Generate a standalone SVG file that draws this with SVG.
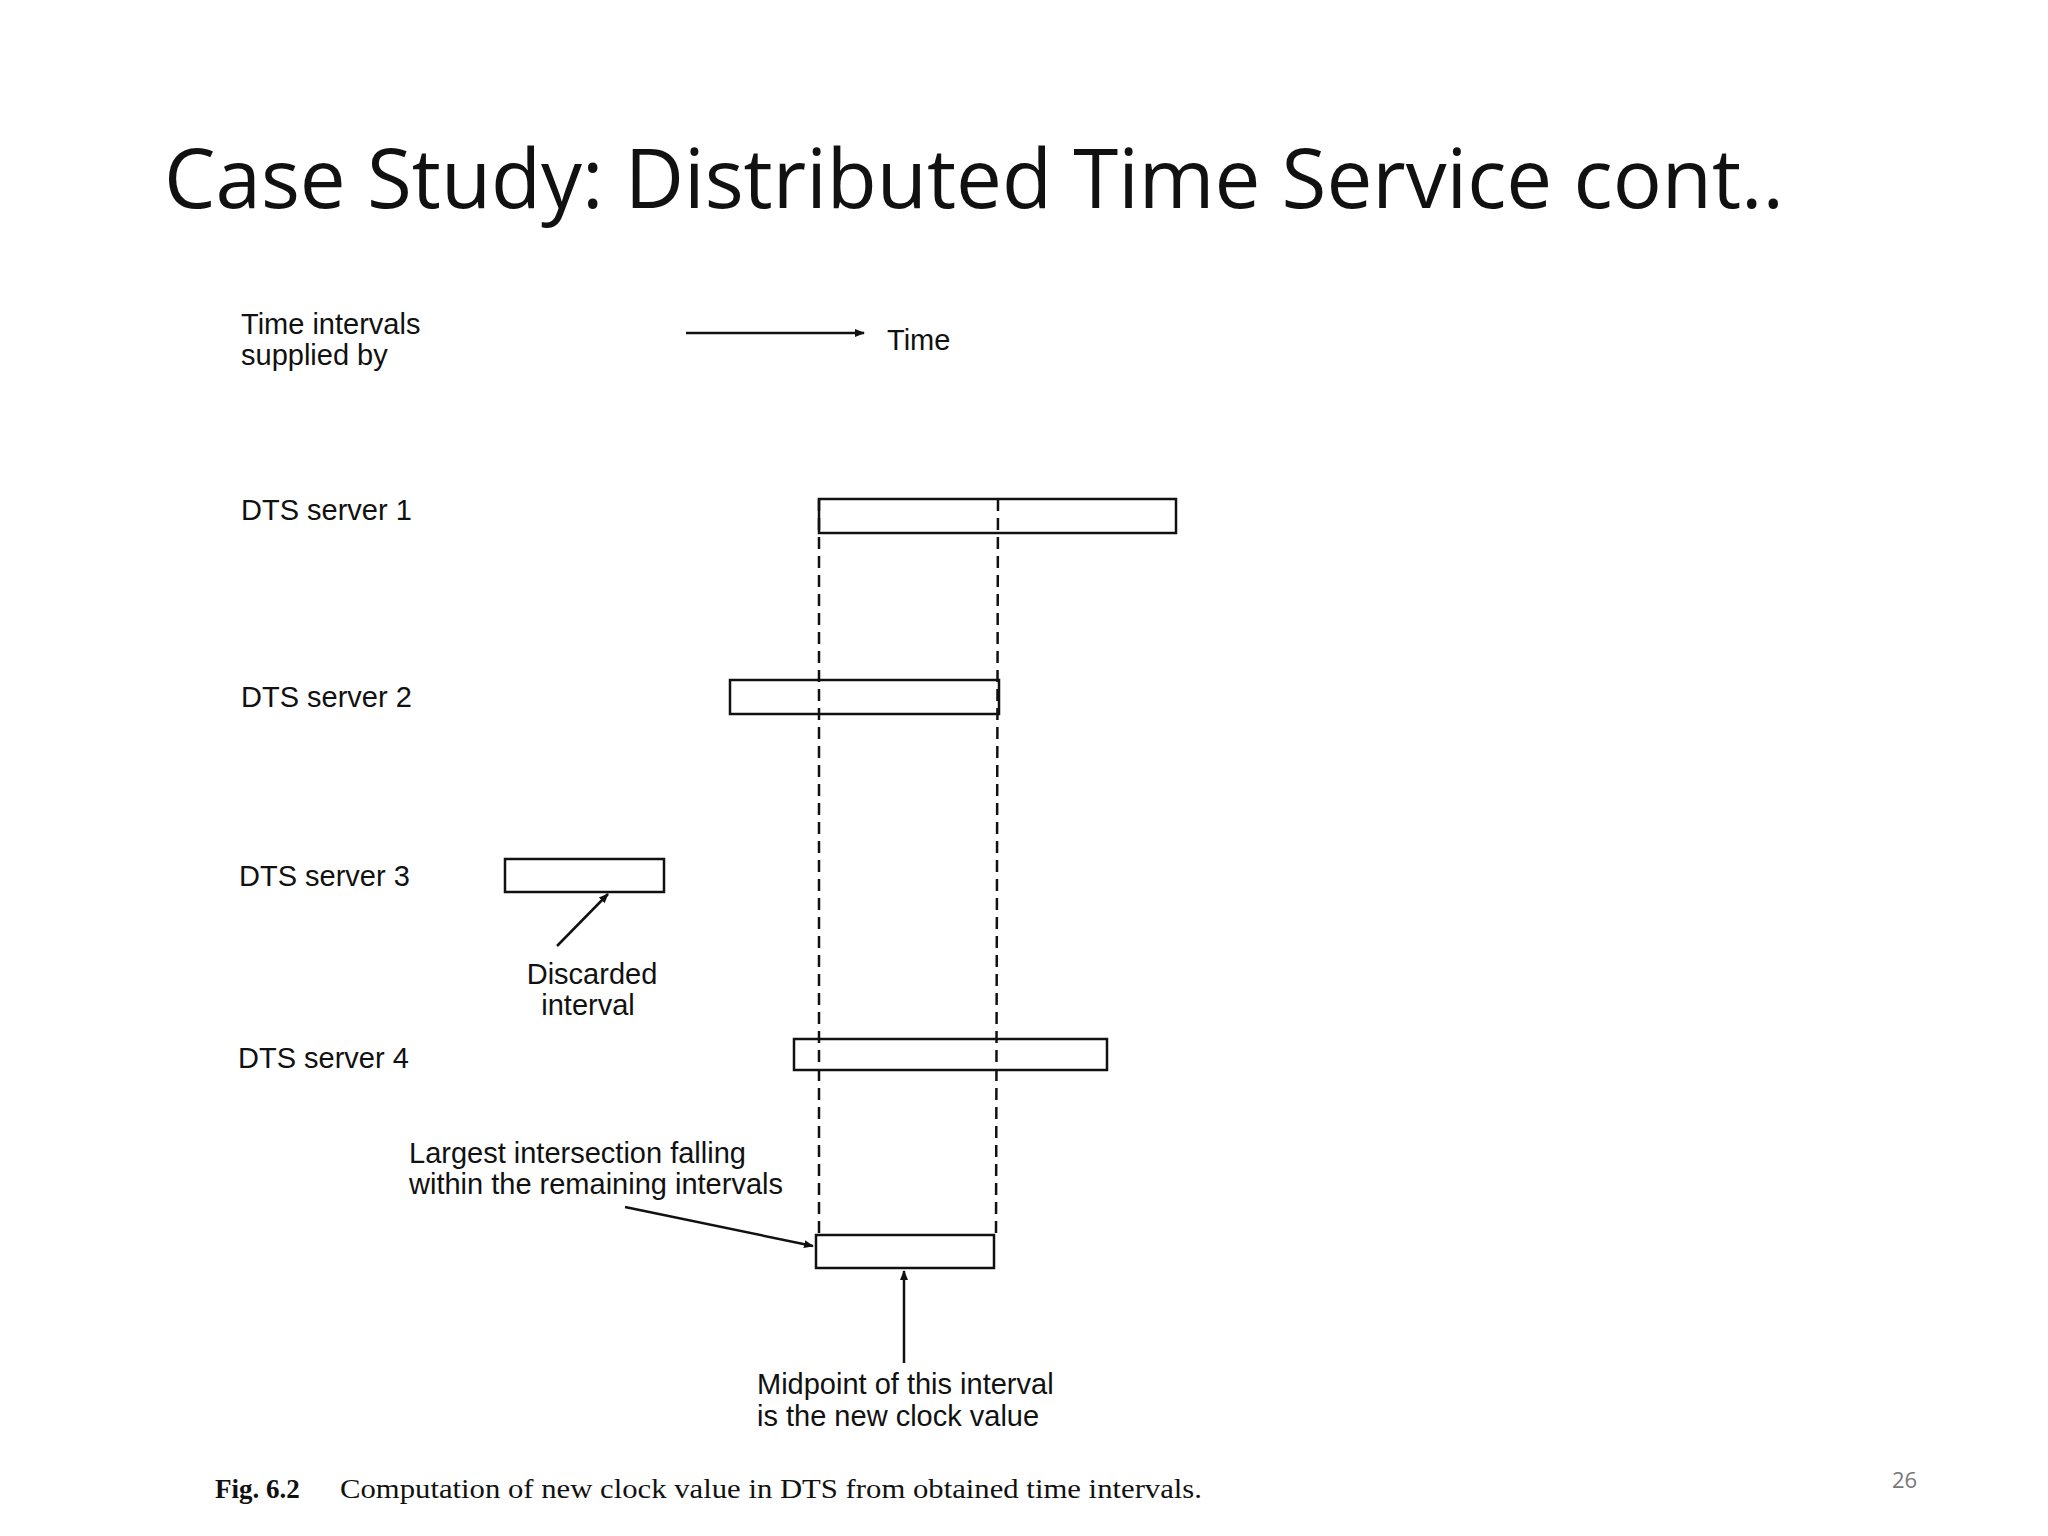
<svg xmlns="http://www.w3.org/2000/svg" width="2048" height="1536" viewBox="0 0 2048 1536">
<style>
.l{font-family:"Liberation Sans",Arial,sans-serif;font-size:29px;fill:#111}
.box{fill:#fff;stroke:#111;stroke-width:2.5}
.c{stroke:#111;stroke-width:2.5;fill:none}
.d{stroke:#111;stroke-width:2.5;stroke-dasharray:12,7;fill:none}
</style>
<defs><marker id="ah" markerWidth="10" markerHeight="8" refX="9" refY="4" orient="auto" markerUnits="userSpaceOnUse"><path d="M0,0L10,4L0,8z" fill="#111"/></marker></defs>
<rect width="2048" height="1536" fill="#fff"/>
<text x="164" y="208" font-family="'Open Sans','Liberation Sans',sans-serif" font-size="82" fill="#111" textLength="1620" lengthAdjust="spacingAndGlyphs">Case Study: Distributed Time Service cont..</text>
<g id="legend"><text class="l" x="241" y="334">Time intervals</text><text class="l" x="241" y="365">supplied by</text><text class="l" x="887" y="350">Time</text></g>
<g id="s1"><text class="l" x="241" y="520">DTS server 1</text><rect class="box" x="819" y="499" width="357" height="34"/></g>
<g id="s2"><text class="l" x="241" y="707">DTS server 2</text><rect class="box" x="730" y="680" width="269" height="34"/></g>
<g id="s3"><text class="l" x="239" y="886">DTS server 3</text><rect class="box" x="505" y="859" width="159" height="33"/></g>
<g id="s4"><text class="l" x="238" y="1068">DTS server 4</text><rect class="box" x="794" y="1039" width="313" height="31"/></g>
<g id="discard"><text class="l" x="592" y="984" text-anchor="middle">Discarded</text><text class="l" x="588" y="1015" text-anchor="middle">interval</text></g>
<g id="result"><rect class="box" x="816" y="1235" width="178" height="33"/></g>
<g id="largest"><text class="l" x="409" y="1163">Largest intersection falling</text><text class="l" x="409" y="1194">within the remaining intervals</text></g>
<g id="mid"><text class="l" x="757" y="1394">Midpoint of this interval</text><text class="l" x="757" y="1426">is the new clock value</text></g>
<g id="connectors">
<line class="c" x1="686" y1="333" x2="864" y2="333" marker-end="url(#ah)"/>
<line class="d" x1="819" y1="499" x2="819" y2="1235"/>
<line class="d" x1="998" y1="499" x2="996" y2="1235"/>
<line class="c" x1="557" y1="946" x2="608" y2="894" marker-end="url(#ah)"/>
<line class="c" x1="625" y1="1207" x2="813" y2="1246" marker-end="url(#ah)"/>
<line class="c" x1="904" y1="1363" x2="904" y2="1271" marker-end="url(#ah)"/>
</g>
<text x="215" y="1498" font-family="'Liberation Serif',serif" font-size="27" font-weight="bold" fill="#111">Fig. 6.2</text>
<text x="340" y="1498" font-family="'Liberation Serif',serif" font-size="27" fill="#111" textLength="862" lengthAdjust="spacingAndGlyphs">Computation of new clock value in DTS from obtained time intervals.</text>
<text x="1892" y="1488" font-family="'Open Sans','Liberation Sans',sans-serif" font-size="22" fill="#777">26</text>
</svg>
